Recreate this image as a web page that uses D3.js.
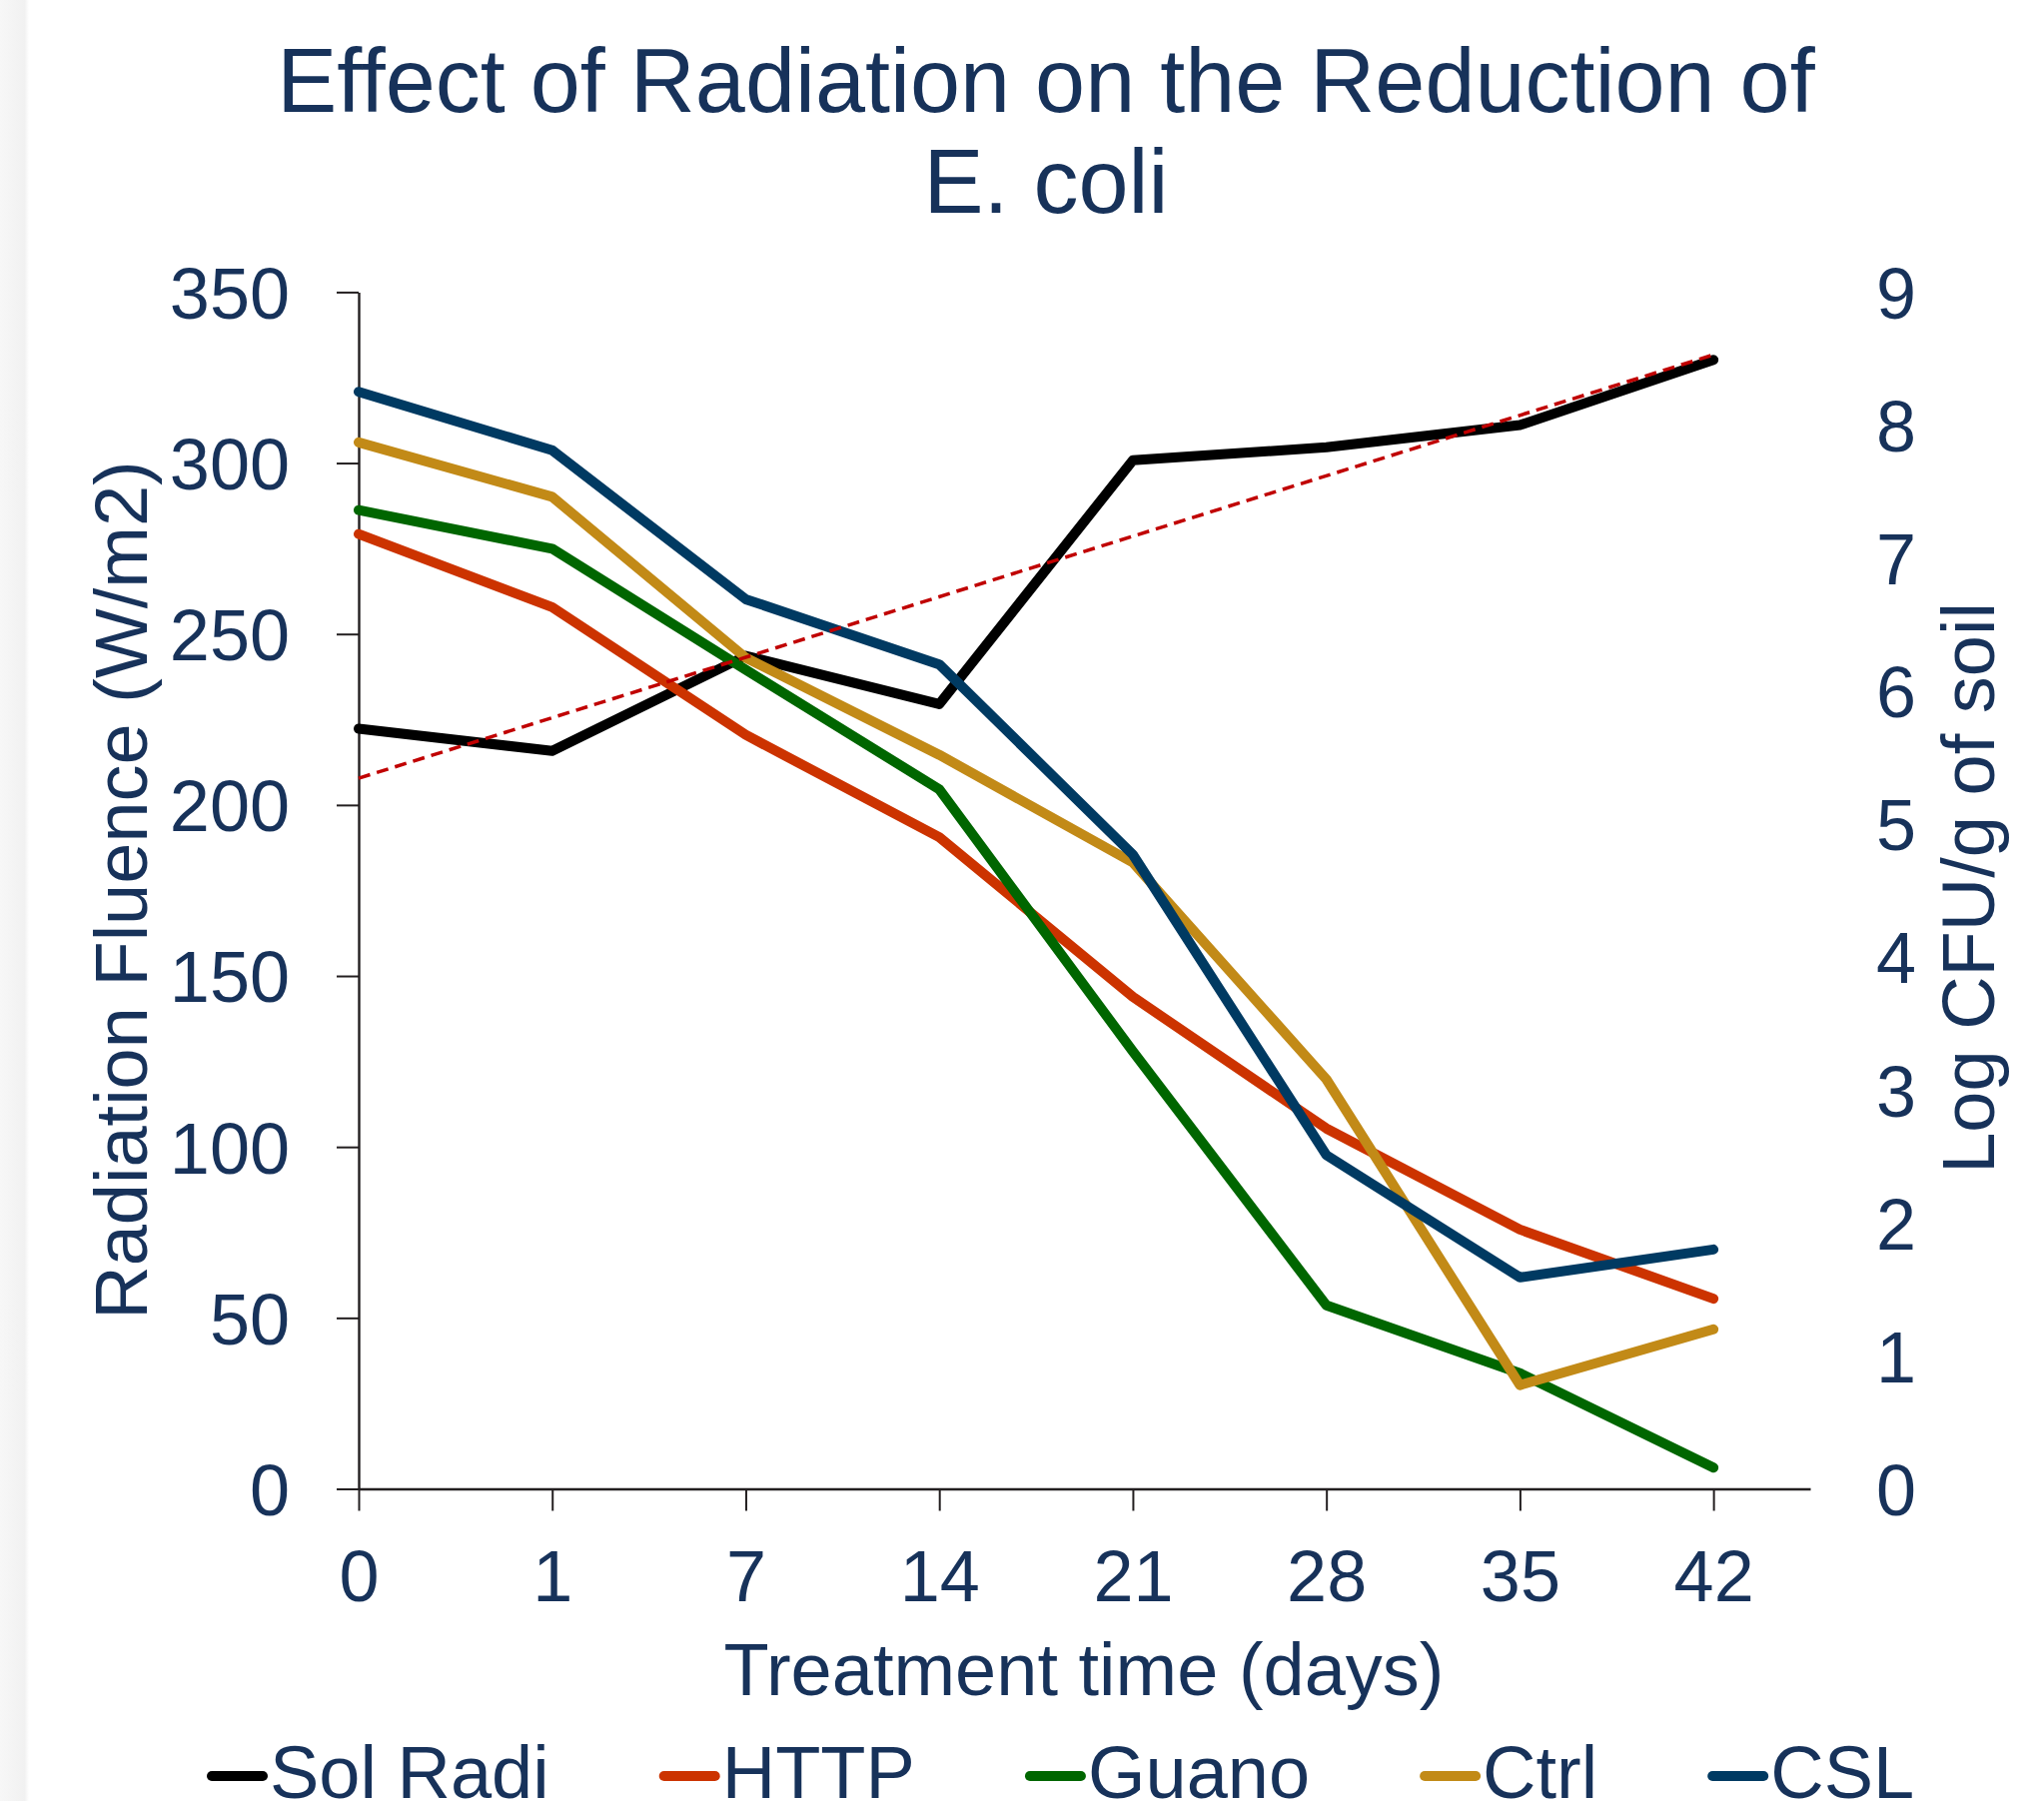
<!DOCTYPE html>
<html>
<head>
<meta charset="utf-8">
<script src="https://cdn.jsdelivr.net/npm/d3@7"></script>
<style>
  body { margin: 0; background: #fff; }
  svg { display: block; font-family: "Liberation Sans", Arial, sans-serif; }
</style>
</head>
<body>
<svg width="2046" height="1803"></svg>
<script>
// categories on the x axis (days of treatment)
var days = ["0", "1", "7", "14", "21", "28", "35", "42"];

// Solar radiation, left axis (W/m2)
var solRadi = [222.3, 215.8, 243.6, 229.5, 300.8, 304.6, 311.1, 330.2];

// Log CFU/g of soil, right axis
var http  = [7.18, 6.63, 5.67, 4.90, 3.70, 2.71, 1.95, 1.43];
var guano = [7.36, 7.07, 6.16, 5.26, 3.29, 1.38, 0.87, 0.16];
var ctrl  = [7.87, 7.46, 6.25, 5.52, 4.71, 3.08, 0.78, 1.20];
var csl   = [8.25, 7.81, 6.69, 6.20, 4.77, 2.51, 1.59, 1.80];

var leftTicks = [0, 50, 100, 150, 200, 250, 300, 350];
var rightTicks = [0, 1, 2, 3, 4, 5, 6, 7, 8, 9];

var textColor = "#17325a";
var axisColor = "#231f20";

var series = [
    { name: "Sol Radi", values: solRadi, color: "#000000", axis: "left" },
    { name: "HTTP", values: http, color: "#cc3300", axis: "right" },
    { name: "Guano", values: guano, color: "#006600", axis: "right" },
    { name: "Ctrl", values: ctrl, color: "#c28a17", axis: "right" },
    { name: "CSL", values: csl, color: "#003a62", axis: "right" }
];

var svg = d3.select("svg");

// light shadow strip on the left edge
var grad = svg.append("defs").append("linearGradient")
    .attr("id", "edge").attr("x1", 0).attr("x2", 1);
grad.append("stop").attr("offset", 0).attr("stop-color", "#f7f7f7");
grad.append("stop").attr("offset", 0.85).attr("stop-color", "#f1f1f1");
grad.append("stop").attr("offset", 1).attr("stop-color", "#ffffff");
svg.append("rect").attr("x", 0).attr("y", 0).attr("width", 29).attr("height", 1803)
    .attr("fill", "url(#edge)");

// scales: the x axis runs half a category past the last point
var x = d3.scaleLinear().domain([0, days.length - 0.5]).range([359, 1812]);
var yL = d3.scaleLinear().domain([0, 350]).range([1490.5, 292.4]);
var yR = d3.scaleLinear().domain([0, 9]).range([1490.5, 292.4]);

// title
var title = svg.append("text")
    .attr("text-anchor", "middle")
    .attr("font-size", 90)
    .attr("fill", textColor);
title.append("tspan").attr("x", 1047).attr("y", 112).text("Effect of Radiation on the Reduction of");
title.append("tspan").attr("x", 1047).attr("y", 213).text("E. coli");

// left axis
var gL = svg.append("g")
    .attr("transform", "translate(" + x(0) + ",0)")
    .call(d3.axisLeft(yL).tickValues(leftTicks).tickSize(22).tickSizeOuter(0).tickPadding(47));

// x axis
var gX = svg.append("g")
    .attr("transform", "translate(0," + yL(0) + ")")
    .call(d3.axisBottom(x).tickValues(d3.range(days.length)).tickSize(22).tickSizeOuter(0)
        .tickPadding(39).tickFormat(function (i) { return days[i]; }));

// right axis (labels only)
var gR = svg.append("g")
    .attr("transform", "translate(" + x(days.length - 0.5) + ",0)")
    .call(d3.axisRight(yR).tickValues(rightTicks).tickSize(0).tickPadding(66));
gR.select(".domain").remove();

[gL, gX, gR].forEach(function (g) {
    g.selectAll(".domain").attr("stroke", axisColor).attr("stroke-width", 2.4);
    g.selectAll(".tick line").attr("stroke", axisColor).attr("stroke-width", 2);
    g.selectAll(".tick text")
        .attr("fill", textColor)
        .attr("font-size", 72)
        .attr("font-family", "'Liberation Sans', Arial, sans-serif");
});
gL.selectAll(".tick text").attr("dy", "0.36em");
gR.selectAll(".tick text").attr("dy", "0.36em");

// axis titles
svg.append("text")
    .attr("transform", "translate(147,891) rotate(-90)")
    .attr("text-anchor", "middle")
    .attr("font-size", 74)
    .attr("fill", textColor)
    .text("Radiation Fluence (W/m2)");

svg.append("text")
    .attr("transform", "translate(1996,889) rotate(-90)")
    .attr("text-anchor", "middle")
    .attr("font-size", 74)
    .attr("fill", textColor)
    .text("Log CFU/g of soil");

svg.append("text")
    .attr("x", 1085)
    .attr("y", 1697)
    .attr("text-anchor", "middle")
    .attr("font-size", 74)
    .attr("fill", textColor)
    .text("Treatment time (days)");

// series lines
series.forEach(function (s) {
    var yS = s.axis === "left" ? yL : yR;
    var line = d3.line()
        .x(function (d, i) { return x(i); })
        .y(function (d) { return yS(d); });
    svg.append("path")
        .datum(s.values)
        .attr("d", line)
        .attr("fill", "none")
        .attr("stroke", s.color)
        .attr("stroke-width", 10)
        .attr("stroke-linecap", "round")
        .attr("stroke-linejoin", "round");
});

// linear trend line of the solar radiation
var idx = d3.range(solRadi.length);
var mx = d3.mean(idx), my = d3.mean(solRadi);
var slope = d3.sum(idx, function (i) { return (i - mx) * (solRadi[i] - my); }) /
    d3.sum(idx, function (i) { return (i - mx) * (i - mx); });
var icpt = my - slope * mx;
svg.append("line")
    .attr("x1", x(0)).attr("y1", yL(icpt))
    .attr("x2", x(idx.length - 1)).attr("y2", yL(icpt + slope * (idx.length - 1)))
    .attr("stroke", "#c00000")
    .attr("stroke-width", 3.5)
    .attr("stroke-dasharray", "12,7");

// legend
var lx = 207;
series.forEach(function (s) {
    svg.append("line")
        .attr("x1", lx + 5).attr("x2", lx + 56)
        .attr("y1", 1778).attr("y2", 1778)
        .attr("stroke", s.color)
        .attr("stroke-width", 10)
        .attr("stroke-linecap", "round");
    var t = svg.append("text")
        .attr("x", lx + 63)
        .attr("y", 1800)
        .attr("font-size", 74)
        .attr("fill", textColor)
        .text(s.name);
    lx = lx + 63 + t.node().getComputedTextLength() + 110;
});
</script>
</body>
</html>
